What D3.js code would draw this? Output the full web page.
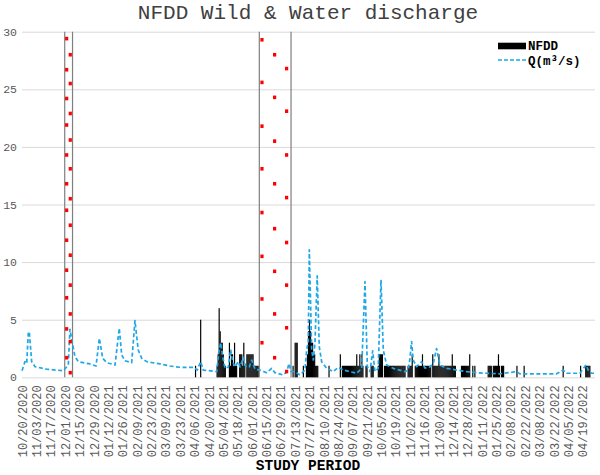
<!DOCTYPE html>
<html><head><meta charset="utf-8">
<script src="https://cdn.jsdelivr.net/npm/d3@7"></script>
<style>
html,body{margin:0;padding:0;background:#fff;}
svg{display:block;font-family:"Courier New","Nimbus Mono PS","FreeMono","Liberation Mono",monospace;}
</style></head>
<body><svg id="c" width="600" height="475"></svg>
<script>
// ---------- DATA ----------
const startDate = "10/20/2020";
const tickLabels = ["10/20/2020","11/03/2020","11/17/2020","12/01/2020","12/15/2020","12/29/2020","01/12/2021","01/26/2021","02/09/2021","02/23/2021","03/09/2021","03/23/2021","04/06/2021","04/20/2021","05/04/2021","05/18/2021","06/01/2021","06/15/2021","06/29/2021","07/13/2021","07/27/2021","08/10/2021","08/24/2021","09/07/2021","09/21/2021","10/05/2021","10/19/2021","11/02/2021","11/16/2021","11/30/2021","12/14/2021","12/28/2021","01/11/2022","01/25/2022","02/08/2022","02/22/2022","03/08/2022","03/22/2022","04/05/2022","04/19/2022"];
const yTicks = [0,5,10,15,20,25,30];

// Q (m3/s): day offset from start, value
const qDays = [0,2.9,4.6,6.1,7.1,9.4,12.7,24,40.2,45.1,46.7,49.4,51.6,54.8,66.2,72.1,75.3,78.6,82.5,90.6,94.7,97.1,100.3,106.8,110,113.2,116.6,121.4,134.4,144.1,153.8,166.8,170.7,174,176.5,189.6,191.5,193.5,195.4,197.7,200.9,203.2,205.2,207.4,210.6,212.3,215.5,218.1,221.3,223.7,226.9,231.7,238.3,243.1,246.3,254.4,258,260,262,265.8,270.7,275.6,277.2,278.8,279.8,282.1,283.7,285.3,287.5,289.5,291.8,296.7,303.1,308,312.9,325.9,330.8,334,336.3,338.9,341.5,343.7,346.9,349.6,351.8,355.1,361.5,372.9,376.1,377.8,379.4,381,384.3,389.2,392.4,397.3,400.5,403.7,407,413.5,423.3,433,442.7,452.5,465.4,481.7,484.9,520.6,527,530.4,543.3,549.2,551.5,554.7,557];
const qValues = [0.57,1.36,1.2,3.8,3.97,1.36,0.92,0.7,0.57,1.07,4.17,2.8,1.8,1.36,1.16,0.98,3.39,1.65,1.27,1.07,4.26,1.94,1.44,1.27,4.92,2.37,1.65,1.36,1.16,0.98,0.87,0.87,0.63,1.36,0.63,0.49,2.1,3.0,1.8,0.78,0.87,2.4,1.36,0.9,1.36,0.9,1.7,0.9,0.9,1.5,0.7,0.63,0.4,0.78,0.4,0.2,0.5,1.2,0.5,0.49,0.2,0.63,2.37,3.1,11.07,2.37,1.5,3.0,8.8,2.66,1.36,0.78,0.49,0.87,0.63,0.35,0.78,8.3,0.93,0.49,2.3,0.5,0.78,8.46,2.37,1.07,0.78,0.49,0.6,1.65,3.1,1.5,0.92,1.36,0.8,0.9,1.2,2.5,1.07,0.78,0.63,0.5,0.4,0.35,0.3,0.5,0.3,0.3,0.63,0.35,0.35,1.07,0.6,0.35,0.35];

// NFDD bars: day offset, value
const nfddDays = [169,174,190,191,192,193,194,195,196,197,198,202,203,204,205,206,207,208,209,212,213,214,215,216,217,219,220,221,222,223,224,225,226,227,228,229,230,264,266,267,268,274,277,278,279,280,281,282,283,284,285,286,287,288,299,310,312,313,314,315,316,317,318,319,320,321,322,323,324,325,326,327,328,329,330,331,332,335,336,340,341,342,347,348,349,350,351,353,354,355,356,357,358,359,360,361,362,363,364,365,366,367,368,369,370,371,372,373,376,377,378,379,380,383,384,385,386,387,388,389,390,391,392,393,394,395,396,397,398,400,401,402,403,404,405,406,407,408,409,410,411,412,413,414,415,416,417,418,419,420,421,422,428,429,430,431,432,433,434,435,436,439,441,454,455,456,457,459,460,461,462,463,464,465,467,468,469,482,489,527,544,549,550,551,552,553];
const nfddValues = [1,5,1,2,6,4,3,3,2,1,1,3,1,2,2,1,3,1,1,2,2,2,1,3,1,2,2,2,2,2,2,2,1,1,1,1,1,1,3,3,3,1,1,2,4,5,4,3,3,2,2,1,1,1,1,2,1,1,1,1,1,1,1,1,1,1,1,1,1,1,2,1,1,2,1,2,1,1,1,1,1,1,1,2,2,2,2,1,1,1,1,1,1,1,1,1,1,1,1,1,1,1,1,1,1,1,1,1,1,1,1,1,2,1,1,1,1,1,1,1,2,1,1,1,1,1,1,1,1,2,1,1,1,1,1,2,1,1,1,1,1,1,1,1,1,1,1,1,2,1,1,1,1,1,1,1,1,1,1,1,2,1,1,1,1,1,1,1,1,1,1,1,2,1,1,1,1,1,1,1,1,1,1,1,1,1,2,1];

// Wild periods: bounding lines (day offsets) and marker points
const wildBounds = [41.6, 49.2, 231.1, 262];
const wildDays = [43.5,47,43.5,47,43.5,47,43.5,47,43.5,47,43.5,47,43.5,47,43.5,47,43.5,47,43.5,47,43.5,47,43.5,47,
  233.7,233.7,233.7,233.7,233.7,233.7,233.7,233.7,
  246,246,246,246,246,246,246,246,
  257.7,257.7,257.7,257.7,257.7,257.7,257.7,257.7];
const wildValues = [29.4,28.0,26.7,25.5,24.2,22.9,21.9,20.6,19.3,18.1,16.8,15.5,14.5,13.2,11.9,10.6,9.3,8.0,6.9,5.5,4.2,3.1,1.7,0.4,
  29.3,25.6,21.8,18.1,14.3,10.5,6.8,3.0,
  28.0,24.3,20.5,16.8,12.9,9.2,5.5,1.7,
  26.8,23.1,19.3,15.6,11.7,8.0,4.3,0.5];

// ---------- CHART ----------
const FONT = "'Courier New','Nimbus Mono PS','FreeMono','Liberation Mono',monospace";
const svg = d3.select("#c");
const parse = d3.timeParse("%m/%d/%Y");
const t0 = parse(startDate);
const x = d3.scaleLinear().domain([0, 558]).range([22, 595]);
const y = d3.scaleLinear().domain([0, 30]).range([377.3, 31.7]);

// gridlines + y labels
const yAxis = svg.append("g").attr("transform", "translate(22,0)")
  .call(d3.axisLeft(y).tickValues(yTicks).tickSize(-(595-22)).tickPadding(5));
yAxis.select(".domain").remove();
yAxis.selectAll(".tick line").attr("stroke", "#d9d9d9").attr("stroke-width", 1);
yAxis.selectAll(".tick text").attr("fill", "#595959").style("font-family", FONT).style("font-size", "11.5px");

// x labels
const xAxis = svg.append("g").attr("transform", `translate(0,${y(0)})`)
  .call(d3.axisBottom(x).tickValues(tickLabels.map(s => d3.timeDay.count(t0, parse(s)))).tickFormat((d, i) => tickLabels[i]).tickSize(0));
xAxis.select(".domain").remove();
xAxis.selectAll(".tick text")
  .attr("transform", "rotate(-90)")
  .attr("text-anchor", "end")
  .attr("x", -8).attr("y", 0).attr("dy", "0.35em")
  .attr("fill", "#595959")
  .style("font-family", FONT).style("font-size", "12px");

// NFDD bars
const bw = (x(1) - x(0)) * 1.15;
svg.append("g").selectAll("rect").data(nfddDays).join("rect")
  .attr("x", d => x(d) - bw / 2).attr("width", bw)
  .attr("y", (d, i) => y(nfddValues[i]))
  .attr("height", (d, i) => y(0) - y(nfddValues[i]))
  .attr("fill", "#000");

// wild period boundaries
svg.append("g").selectAll("line").data(wildBounds).join("line")
  .attr("x1", d => x(d)).attr("x2", d => x(d))
  .attr("y1", y(30)).attr("y2", y(0))
  .attr("stroke", "#7f7f7f").attr("stroke-width", 1.2);

// Q line
const line = d3.line().x(d => x(d)).y((d, i) => y(qValues[i]));
svg.append("path").datum(qDays).attr("d", line)
  .attr("fill", "none").attr("stroke", "#1ea8e6").attr("stroke-width", 1.7)
  .attr("stroke-dasharray", "4,2.5").attr("stroke-linejoin", "round");

// wild markers
svg.append("g").selectAll("rect").data(wildDays).join("rect")
  .attr("x", d => x(d) - 1.6).attr("width", 3.2)
  .attr("y", (d, i) => y(wildValues[i]) - 1.8).attr("height", 3.6)
  .attr("fill", "#ff0000");

// title
svg.append("text").attr("x", 308).attr("y", 18.5).attr("text-anchor", "middle")
  .attr("fill", "#404040").style("font-family", FONT).style("font-size", "21px").text("NFDD Wild & Water discharge");

// axis title
svg.append("text").attr("x", 308).attr("y", 469.5).attr("text-anchor", "middle")
  .attr("fill", "#000").style("font-family", FONT).style("font-size", "14.5px").style("font-weight", "bold").text("STUDY PERIOD");

// legend
const lg = svg.append("g");
lg.append("rect").attr("x", 498).attr("y", 42.7).attr("width", 28).attr("height", 6.6).attr("fill", "#000");
lg.append("text").attr("x", 528).attr("y", 49.5).style("font-family", FONT).style("font-size", "12.5px").style("font-weight", "bold").attr("fill", "#000").text("NFDD");
lg.append("line").attr("x1", 498).attr("x2", 526).attr("y1", 60).attr("y2", 60)
  .attr("stroke", "#1ea8e6").attr("stroke-width", 1.7).attr("stroke-dasharray", "4,2");
lg.append("text").attr("x", 528).attr("y", 64.5).style("font-family", FONT).style("font-size", "12.5px").style("font-weight", "bold").attr("fill", "#000").text("Q(m³/s)");
</script></body></html>
